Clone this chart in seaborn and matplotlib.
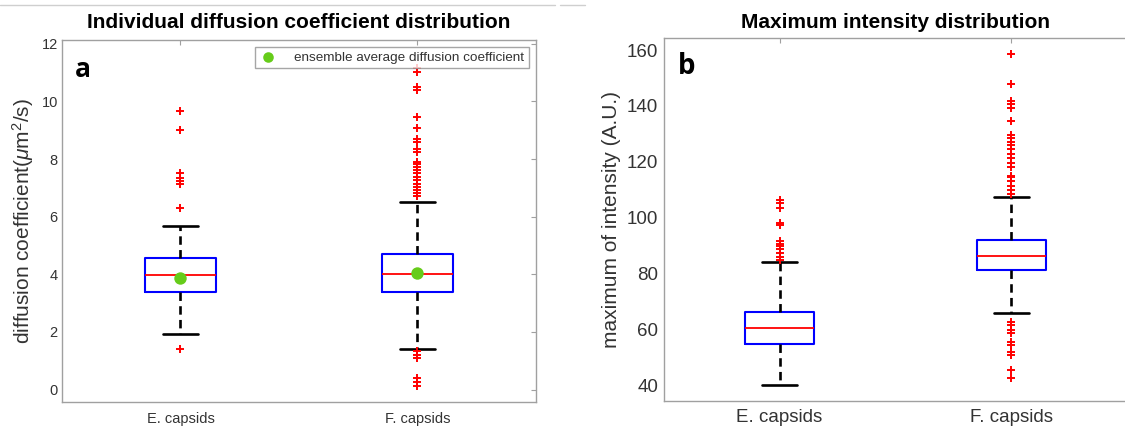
import numpy as np
import pandas as pd
import matplotlib
matplotlib.use("Agg")
import matplotlib.pyplot as plt
from matplotlib.lines import Line2D
import seaborn as sns

# ---------------- data ----------------
categories = ["E. capsids", "F. capsids"]

# panel a: diffusion coefficient (um^2/s)
diff_q1 = [3.38, 3.38]
diff_med = [3.97, 4.02]
diff_q3 = [4.56, 4.70]
diff_whislo = [1.94, 1.41]
diff_whishi = [5.68, 6.51]
diff_mean = [3.87, 4.04]
diff_out_E = [1.42, 6.30, 7.12, 7.23, 7.35, 7.50, 9.02, 9.65]
diff_out_F = [0.12, 0.25, 0.40, 1.10, 1.21, 1.33,
              6.71, 6.81, 6.92, 7.03, 7.15, 7.27, 7.38, 7.50, 7.61, 7.73,
              7.82, 7.90, 8.25, 8.36, 8.59, 8.71, 9.09, 9.44, 10.38, 10.50,
              11.01, 11.15]

# panel b: maximum intensity (A.U.)
int_q1 = [54.7, 81.2]
int_med = [60.4, 86.3]
int_q3 = [66.3, 91.9]
int_whislo = [40.0, 65.7]
int_whishi = [84.1, 107.4]
int_out_E = [84.8, 86.0, 87.2, 88.6, 89.8, 90.7, 91.7, 97.2, 98.1,
             103.3, 105.3, 106.3]
int_out_F = [42.4, 45.4, 50.7, 51.9, 54.3, 55.5, 58.5, 59.9, 61.5, 62.7,
             108.4, 109.8, 111.4, 113.2, 114.4, 115.0, 118.0, 119.6, 121.2,
             122.7, 124.4, 126.0, 127.1, 128.4, 129.5, 134.7, 139.4, 140.6,
             141.8, 148.0, 158.6]

# ---------------- style ----------------
sns.set_theme(style="white")
plt.rcParams["font.family"] = ["Liberation Sans", "DejaVu Sans"]
plt.rcParams["mathtext.fontset"] = "custom"
plt.rcParams["mathtext.rm"] = "Liberation Sans"
plt.rcParams["mathtext.it"] = "Liberation Sans:italic"

SPINE = "#a0a0a0"
TXT = "#333333"
GREEN = "#66cc1a"

fig = plt.figure(figsize=(11.25, 4.3), dpi=100)
axa = fig.add_axes([0.0551, 0.0651, 0.4213, 0.842])
axb = fig.add_axes([0.5899, 0.0674, 0.4120, 0.8447])

# decorative separators at top of figure
fig.add_artist(Line2D([0.0, 0.493], [0.988, 0.988], color="#cfcfcf", lw=1))
fig.add_artist(Line2D([0.498, 0.52], [0.988, 0.988], color="#cfcfcf", lw=1))


def draw_panel(ax, q1, med, q3, lo, hi, outs, right_ticks=True):
    positions = [1, 2]
    stats = []
    for i, c in enumerate(categories):
        stats.append(dict(label=c, q1=q1[i], med=med[i], q3=q3[i],
                          whislo=lo[i], whishi=hi[i], fliers=[]))
    ax.bxp(stats, positions=positions, widths=0.3, showfliers=False,
           boxprops=dict(color="#0000ff", lw=1.5),
           medianprops=dict(color="#ff0000", lw=1.3),
           whiskerprops=dict(color="black", lw=1.9, linestyle=(0, (3.2, 2.0))),
           capprops=dict(color="black", lw=1.9), capwidths=0.15)
    # outliers via seaborn
    rows = []
    for i, vals in enumerate(outs):
        for v in vals:
            rows.append((positions[i], v))
    df = pd.DataFrame(rows, columns=["x", "y"])
    sns.scatterplot(data=df, x="x", y="y", ax=ax, marker="+", color="#ff0000",
                    s=28, linewidth=1.4, zorder=4)
    ax.set_xlim(0.5, 2.5)
    ax.set_xticks(positions)
    ax.set_xticklabels(categories)
    ax.set_xlabel("")
    for s in ax.spines.values():
        s.set_color(SPINE)
        s.set_linewidth(1.0)
    ax.tick_params(direction="in", length=3.5, width=0.8, color=SPINE,
                   labelcolor=TXT, top=True, right=right_ticks)


# ---------- panel a ----------
draw_panel(axa, diff_q1, diff_med, diff_q3, diff_whislo, diff_whishi,
           [diff_out_E, diff_out_F])
mdf = pd.DataFrame({"x": [1, 2], "y": diff_mean})
sns.scatterplot(data=mdf, x="x", y="y", ax=axa, color=GREEN, s=80,
                edgecolor=GREEN, linewidth=0, zorder=6,
                label="ensemble average diffusion coefficient")
axa.set_ylim(-0.43, 12.13)
axa.set_yticks([0, 2, 4, 6, 8, 10, 12])
axa.tick_params(axis="both", labelsize=10.5)
axa.tick_params(axis="y", pad=3)
axa.tick_params(axis="x", pad=7)
axa.set_xlabel("")
axa.set_ylabel(r"diffusion coefficient($\mathit{\mu}$m$^{2}$/s)", fontsize=15,
               color=TXT)
axa.yaxis.set_label_coords(-0.055, 0.5)
axa.set_title("Individual diffusion coefficient distribution", fontsize=15,
              fontweight="bold", color="black", pad=8.6)
leg = axa.legend(loc="upper right", fontsize=9.7, frameon=True, fancybox=False,
                 borderpad=0.3, handletextpad=1.3, handlelength=1.3,
                 borderaxespad=0.55, markerscale=0.85)
leg.get_frame().set_edgecolor("#909090")
leg.get_frame().set_linewidth(1.0)
for t in leg.get_texts():
    t.set_color(TXT)
axa.text(0.027, 0.955, "a", transform=axa.transAxes, fontsize=19,
         fontweight="bold", family=["Open Sans", "DejaVu Sans"],
         va="top", ha="left", color="black")

# ---------- panel b ----------
draw_panel(axb, int_q1, int_med, int_q3, int_whislo, int_whishi,
           [int_out_E, int_out_F], right_ticks=False)
axb.set_ylim(34.3, 164.4)
axb.set_yticks([40, 60, 80, 100, 120, 140, 160])
axb.tick_params(axis="both", labelsize=13.5)
axb.tick_params(axis="y", pad=4)
axb.tick_params(axis="x", pad=6)
axb.set_xlabel("")
axb.set_ylabel("maximum of intensity (A.U.)", fontsize=15, color=TXT)
axb.yaxis.set_label_coords(-0.092, 0.5)
axb.set_title("Maximum intensity distribution", fontsize=15,
              fontweight="bold", color="black", pad=7.2)
axb.text(0.031, 0.962, "b", transform=axb.transAxes, fontsize=20,
         fontweight="bold", family=["Open Sans", "DejaVu Sans"],
         va="top", ha="left", color="black")

fig.savefig("out.png", dpi=100, facecolor="white")
